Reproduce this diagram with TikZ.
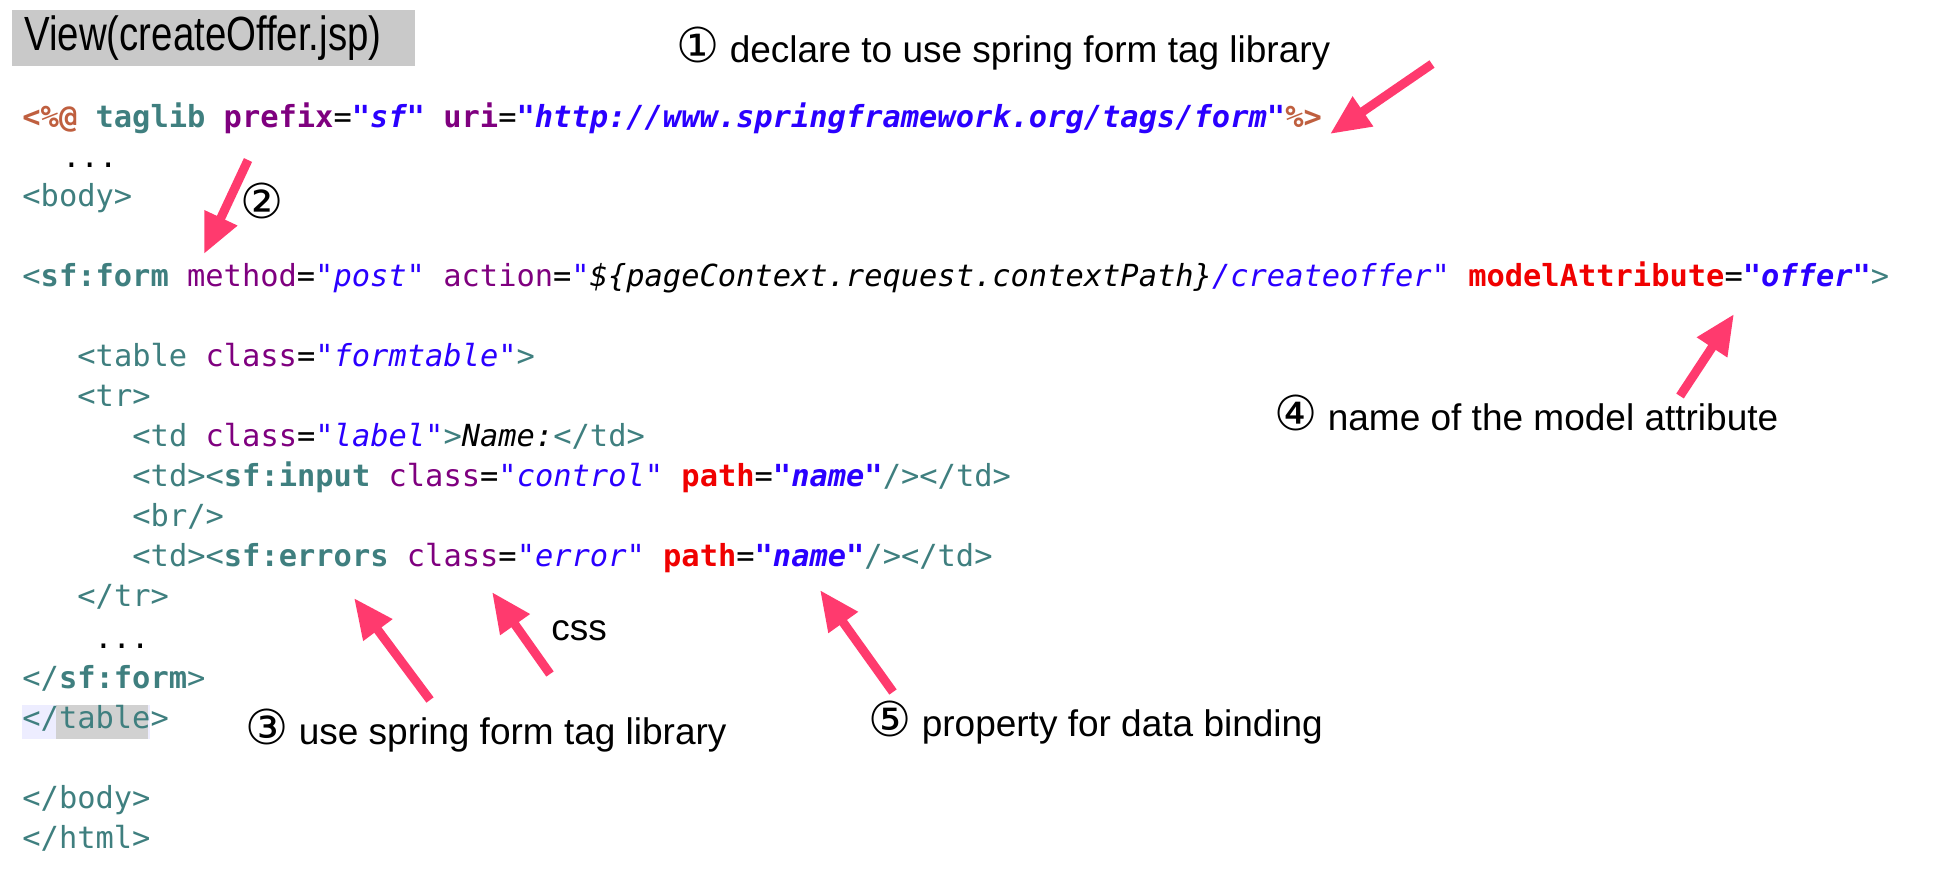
\documentclass[tikz,border=0pt]{standalone}
\usepackage{fontspec}
\setmainfont{Liberation Sans}
\setmonofont{DejaVu Sans Mono}
\newfontfamily\circfont[Scale=1.3]{DejaVu Sans}
\newfontfamily\titlefont[FakeStretch=0.8]{Liberation Sans}
\usetikzlibrary{arrows.meta}
\definecolor{tagc}{HTML}{3F7F7F}
\definecolor{attc}{HTML}{7F007F}
\definecolor{valc}{HTML}{2A00FF}
\definecolor{dirc}{HTML}{BF5F3F}
\definecolor{redc}{HTML}{F00000}
\definecolor{pinkc}{HTML}{FF3A6E}
\newcommand\tg[1]{{\color{tagc}#1}}
\newcommand\tgb[1]{{\color{tagc}\bfseries #1}}
\newcommand\at[1]{{\color{attc}#1}}
\newcommand\atb[1]{{\color{attc}\bfseries #1}}
\newcommand\vl[1]{{\color{valc}\itshape #1}}
\newcommand\vlb[1]{{\color{valc}\bfseries\itshape #1}}
\newcommand\dr[1]{{\color{dirc}\bfseries #1}}
\newcommand\rb[1]{{\color{redc}\bfseries #1}}
\newcommand\cn[1]{{\circfont #1}}
\tikzset{
  code/.style={anchor=base west, inner sep=0pt, font=\ttfamily\fontsize{15.2pt}{18pt}\selectfont},
  note/.style={anchor=base west, inner sep=0pt, font=\fontsize{18.5pt}{22pt}\selectfont},
  fat/.style={draw=pinkc, line width=4.5pt, -{Triangle[length=20pt,width=17pt]}}
}
\begin{document}
\begin{tikzpicture}[x=0.5pt,y=-0.5pt]
\useasboundingbox (0,0) rectangle (1949,874);
% title
\fill[black!21] (12,10) rectangle (415,66);
\node[anchor=west, inner sep=0pt, font=\titlefont\fontsize{24pt}{26pt}\selectfont] (titletext) at (24,38) {View(createOffer.jsp)};
% highlight under </table>
\fill[blue!7] (22,705) rectangle (150,739);
\fill[black!18] (56,705) rectangle (148,739);
% code
\node[code] (l1) at (22,127) {\dr{<\%@} \tgb{taglib} \atb{prefix}=\vlb{"sf"} \atb{uri}=\vlb{"http://www.springframework.org/tags/form"}\dr{\%>}};
\node[code] (l2) at (62,167) {...};
\node[code] (l3) at (22,206) {\tg{<body>}};
\node[code] (l4) at (22,286) {\tg{<}\tgb{sf:form} \at{method}=\vl{"post"} \at{action}=\vl{"}{\itshape\$\{pageContext.request.contextPath\}}\vl{/createoffer"} \rb{modelAttribute}=\vlb{"offer"}\tg{>}};
\node[code] (l5) at (77,366) {\tg{<table} \at{class}=\vl{"formtable"}\tg{>}};
\node[code] (l6) at (77,406) {\tg{<tr>}};
\node[code] (l7) at (132,446) {\tg{<td} \at{class}=\vl{"label"}\tg{>}{\itshape Name:}\tg{</td>}};
\node[code] (l8) at (132,486) {\tg{<td><}\tgb{sf:input} \at{class}=\vl{"control"} \rb{path}=\vlb{"name"}\tg{/></td>}};
\node[code] (l9) at (132,526) {\tg{<br/>}};
\node[code] (l10) at (132,566) {\tg{<td><}\tgb{sf:errors} \at{class}=\vl{"error"} \rb{path}=\vlb{"name"}\tg{/></td>}};
\node[code] (l11) at (77,606) {\tg{</tr>}};
\node[code] (l12) at (94,648) {...};
\node[code] (l13) at (22,688) {\tg{</}\tgb{sf:form}\tg{>}};
\node[code] (l14) at (22,728) {\tg{</table>}};
\node[code] (l15) at (22,808) {\tg{</body>}};
\node[code] (l16) at (22,848) {\tg{</html>}};
% notes
\node[note] (n1) at (676,62) {\cn{①} declare to use spring form tag library};
\node[note] (n2) at (240,218) {\cn{②}};
\node[note] (n3) at (245,744) {\cn{③} use spring form tag library};
\node[note] (n4) at (1274,430) {\cn{④} name of the model attribute};
\node[note] (n5) at (868,736) {\cn{⑤} property for data binding};
\node[note] (css) at (551,640) {css};
% arrows
\coordinate (t1) at (1432,64); \coordinate (h1) at (1330,134);
\coordinate (t2) at (248,160); \coordinate (h2) at (204,254);
\coordinate (t4) at (1680,396); \coordinate (h4) at (1734,314);
\coordinate (t3) at (430,700); \coordinate (h3) at (354,598);
\coordinate (tc) at (550,674); \coordinate (hc) at (492,592);
\coordinate (t5) at (893,692); \coordinate (h5) at (820,590);
\draw[fat] (t1) -- (h1);
\draw[fat] (t2) -- (h2);
\draw[fat] (t4) -- (h4);
\draw[fat] (t3) -- (h3);
\draw[fat] (tc) -- (hc);
\draw[fat] (t5) -- (h5);
\end{tikzpicture}
\end{document}
